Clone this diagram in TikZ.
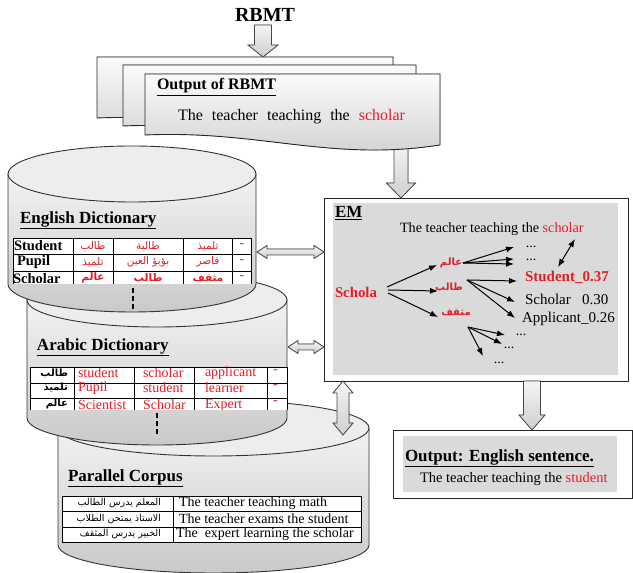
\documentclass[tikz,border=0pt]{standalone}
\usepackage{fontspec}
\setmainfont{Liberation Serif}
\newfontfamily\arabicfont[Script=Arabic]{DejaVu Sans}
\TeXXeTstate=1
\usetikzlibrary{calc,arrows.meta}
\definecolor{myred}{RGB}{228,30,38}
\definecolor{boxgray}{RGB}{218,218,218}
% block arrows between named points
\newcommand{\blockdown}[5]{%
 \filldraw[blockarrow] let \p1=(#1), \p2=(#2) in
 (\x1-#3,\y1) -- (\x1+#3,\y1) -- (\x1+#3,\y2+#5) -- (\x1+#4,\y2+#5) -- (\x1,\y2) -- (\x1-#4,\y2+#5) -- (\x1-#3,\y2+#5) -- cycle;}
\newcommand{\blockhdouble}[5]{%
 \filldraw[blockarrow] let \p1=(#1), \p2=(#2) in
 (\x1,\y1) -- (\x1+#5,\y1+#4) -- (\x1+#5,\y1+#3) -- (\x2-#5,\y1+#3) -- (\x2-#5,\y1+#4) -- (\x2,\y1) -- (\x2-#5,\y1-#4) -- (\x2-#5,\y1-#3) -- (\x1+#5,\y1-#3) -- (\x1+#5,\y1-#4) -- cycle;}
\newcommand{\blockvdouble}[5]{%
 \filldraw[blockarrow] let \p1=(#1), \p2=(#2) in
 (\x1,\y1) -- (\x1+#4,\y1-#5) -- (\x1+#3,\y1-#5) -- (\x1+#3,\y2+#5) -- (\x1+#4,\y2+#5) -- (\x1,\y2) -- (\x1-#4,\y2+#5) -- (\x1-#3,\y2+#5) -- (\x1-#3,\y1-#5) -- (\x1-#4,\y1-#5) -- cycle;}
\begin{document}
\begin{tikzpicture}[x=1pt,y=1pt,
  every node/.style={inner sep=0pt, outer sep=0pt},
  blockarrow/.style={draw=gray!55!black, line width=0.8pt, top color=gray!8, bottom color=gray!38},
  cylbody/.style={top color=gray!10, bottom color=gray!42},
  cyltop/.style={fill=gray!14, draw=black!80, line width=0.9pt},
  cylline/.style={draw=black!80, line width=0.9pt},
  docshape/.style={draw=black!85, line width=0.9pt, top color=gray!3, bottom color=gray!38},
  head/.style={font=\fontsize{17}{20}\selectfont\bfseries, anchor=west},
  body/.style={font=\fontsize{14.5}{17}\selectfont, anchor=west},
  tabline/.style={draw=black, line width=0.9pt},
  tabtxt/.style={font=\fontsize{14}{16}\selectfont},
  tabar/.style={font=\arabicfont\fontsize{10.5}{12}\selectfont, text=myred},
  emarrow/.style={draw=black, line width=1pt, -{Latex[length=8pt,width=6pt]}},
  dashv/.style={draw=black, line width=2.4pt, dash pattern=on 5pt off 3pt}
]
\useasboundingbox (0,0) rectangle (633,573);

% ---------- Parallel corpus cylinder ----------
\shade[cylbody] (58,145) -- (58,28) arc[start angle=180, end angle=360, x radius=155.5pt, y radius=28pt] -- (369,145) -- cycle;
\draw[cylline] (58,145) -- (58,28) arc[start angle=180, end angle=360, x radius=155.5pt, y radius=28pt] -- (369,145);
\filldraw[cyltop] (213.5,145) ellipse [x radius=155.5pt, y radius=28pt];
\node[head] (pctitle) at (68,95) {\underline{Parallel Corpus}};
\begin{scope}
 \clip (62,31) rectangle (361,77);
 \fill[white] (62,31) rectangle (361,77);
 \draw[tabline] (62,62) -- (361,62) (62,46) -- (361,46) (173,31) -- (173,77);
 \node[anchor=east, font=\arabicfont\fontsize{9.5}{11}\selectfont] (pc1a) at (161,70) {\beginR المعلم يدرس الطالب\endR};
 \node[anchor=east, font=\arabicfont\fontsize{9.5}{11}\selectfont] (pc2a) at (161,54) {\beginR الاستاذ يمتحن الطلاب\endR};
 \node[anchor=east, font=\arabicfont\fontsize{9.5}{11}\selectfont] (pc3a) at (161,39) {\beginR الخبير يدرس المثقف\endR};
 \node[tabtxt, anchor=west] (pc1e) at (179,70) {The teacher teaching math};
 \node[tabtxt, anchor=west] (pc2e) at (179,54) {The teacher exams the student};
 \node[tabtxt, anchor=west] (pc3e) at (176,38.5) {The\ \ expert learning the scholar};
\end{scope}
\draw[tabline] (62,31) rectangle (361,77);

% ---------- Arabic dictionary cylinder ----------
\shade[cylbody] (27,273) -- (27,155) arc[start angle=180, end angle=360, x radius=130pt, y radius=27pt] -- (287,273) -- cycle;
\draw[cylline] (27,273) -- (27,155) arc[start angle=180, end angle=360, x radius=130pt, y radius=27pt] -- (287,273);
\filldraw[cyltop] (157,273) ellipse [x radius=130pt, y radius=27pt];
\node[head] (adtitle) at (37,226) {\underline{Arabic Dictionary}};
\begin{scope}
 \clip (30,163) rectangle (287,206);
 \fill[white] (30,163) rectangle (287,206);
 \draw[tabline] (30,190) -- (287,190) (30,175) -- (287,175)
   (74,163) -- (74,206) (134,163) -- (134,206) (194,163) -- (194,206) (267,163) -- (267,206);
 \node[anchor=east, font=\arabicfont\bfseries\fontsize{10}{12}\selectfont] (ad1a) at (68,200) {\beginR طالب\endR};
 \node[anchor=east, font=\arabicfont\bfseries\fontsize{10}{12}\selectfont] (ad2a) at (68,185) {\beginR تلميذ\endR};
 \node[anchor=east, font=\arabicfont\bfseries\fontsize{10}{12}\selectfont] (ad3a) at (68,169) {\beginR عالم\endR};
 \node[tabtxt, anchor=west, text=myred] (ad1b) at (78,200) {student};
 \node[tabtxt, anchor=west, text=myred] (ad1c) at (143,200) {scholar};
 \node[tabtxt, anchor=west, text=myred] (ad1d) at (205,200) {applicant};
 \node[tabtxt, anchor=west, text=myred] (ad1e) at (273,201) {-};
 \node[tabtxt, anchor=west, text=myred] (ad2b) at (78,185) {Pupil};
 \node[tabtxt, anchor=west, text=myred] (ad2c) at (143,185) {student};
 \node[tabtxt, anchor=west, text=myred] (ad2d) at (205,185) {learner};
 \node[tabtxt, anchor=west, text=myred] (ad2e) at (273,186) {-};
 \node[tabtxt, anchor=west, text=myred] (ad3b) at (78,168) {Scientist};
 \node[tabtxt, anchor=west, text=myred] (ad3c) at (143,168) {Scholar};
 \node[tabtxt, anchor=west, text=myred] (ad3d) at (205,168) {Expert};
 \node[tabtxt, anchor=west, text=myred] (ad3e) at (273,170) {-};
\end{scope}
\draw[tabline] (30,163) -- (30,206) -- (287,206) -- (287,163);
\coordinate (addashtop) at (157,160);
\coordinate (addashbot) at (157,137);
\draw[dashv] (addashtop) -- (addashbot);

% ---------- English dictionary cylinder ----------
\shade[cylbody] (8,399) -- (8,289) arc[start angle=180, end angle=360, x radius=124pt, y radius=28pt] -- (256,399) -- cycle;
\draw[cylline] (8,399) -- (8,289) arc[start angle=180, end angle=360, x radius=124pt, y radius=28pt] -- (256,399);
\filldraw[cyltop] (132,399) ellipse [x radius=124pt, y radius=28pt];
\node[head] (edtitle) at (20,353) {\underline{English Dictionary}};
\begin{scope}
 \clip (13,289) rectangle (251,335);
 \fill[white] (13,289) rectangle (251,335);
 \draw[tabline] (13,319) -- (251,319) (13,302) -- (251,302)
   (73,289) -- (73,335) (113,289) -- (113,335) (183,289) -- (183,335) (232,289) -- (232,335);
 \node[tabtxt, font=\fontsize{14.5}{16}\selectfont\bfseries, anchor=west] (ed1a) at (14,327) {Student};
 \node[tabtxt, font=\fontsize{14.5}{16}\selectfont\bfseries, anchor=west] (ed2a) at (17,311) {Pupil};
 \node[tabtxt, font=\fontsize{14.5}{16}\selectfont\bfseries, anchor=west] (ed3a) at (13,294) {Scholar};
 \node[tabar] (ed1b) at (93,327) {\beginR طالب\endR};
 \node[tabar] (ed1c) at (148,327) {\beginR طالبة\endR};
 \node[tabar] (ed1d) at (208,327) {\beginR تلميذ\endR};
 \node[tabtxt, text=myred] (ed1e) at (242,327) {-};
 \node[tabar] (ed2b) at (93,311) {\beginR تلميذ\endR};
 \node[tabar] (ed2c) at (148,311) {\beginR بؤبؤ العين\endR};
 \node[tabar] (ed2d) at (208,311) {\beginR قاصر\endR};
 \node[tabtxt, text=myred] (ed2e) at (242,311) {-};
 \node[tabar, font=\arabicfont\bfseries\fontsize{10.5}{12}\selectfont] (ed3b) at (93,295) {\beginR عالم\endR};
 \node[tabar, font=\arabicfont\bfseries\fontsize{10.5}{12}\selectfont] (ed3c) at (148,295) {\beginR طالب\endR};
 \node[tabar, font=\arabicfont\bfseries\fontsize{10.5}{12}\selectfont] (ed3d) at (208,295) {\beginR مثقف\endR};
 \node[tabtxt, text=myred] (ed3e) at (242,295) {-};
\end{scope}
\draw[tabline] (13,289) -- (13,335) -- (251,335) -- (251,289);
\coordinate (eddashtop) at (133,285);
\coordinate (eddashbot) at (133,262);
\draw[dashv] (eddashtop) -- (eddashbot);

% ---------- EM box ----------
\node[draw=black!85, line width=0.9pt, fill=white, minimum width=304pt, minimum height=183pt] (em) at (476,283.5) {};
\fill[boxgray] (333,198) rectangle (618,370);
\node[head] (emlabel) at (335,360) {\underline{EM}};
\node[body, font=\fontsize{14.2}{17}\selectfont] (emsent) at (400,343.5) {The teacher teaching\ the \textcolor{myred}{scholar}};
\node[anchor=west, font=\fontsize{14.8}{17}\selectfont\bfseries, text=myred] (schola) at (335,281) {Schola};
\node[font=\arabicfont\bfseries\fontsize{10}{12}\selectfont, text=myred] (w1) at (451,310) {\beginR عالم\endR};
\node[font=\arabicfont\bfseries\fontsize{10}{12}\selectfont, text=myred] (w2) at (449,286) {\beginR طالب\endR};
\node[font=\arabicfont\bfseries\fontsize{10}{12}\selectfont, text=myred] (w3) at (456,261) {\beginR مثقف\endR};
\node[anchor=west, font=\fontsize{15}{17}\selectfont\bfseries, text=myred] (cstudent) at (525,296) {Student\_0.37};
\node[anchor=west, font=\fontsize{15}{17}\selectfont] (cscholar) at (525,274) {Scholar\ \ \ 0.30};
\node[anchor=west, font=\fontsize{15}{17}\selectfont] (capplicant) at (522,254) {Applicant\_0.26};
\node[font=\fontsize{14}{16}\selectfont] (d1) at (531,326.5) {...};
\node[font=\fontsize{14}{16}\selectfont] (d2) at (531,313) {...};
\node[font=\fontsize{14}{16}\selectfont] (d3) at (521,238) {...};
\node[font=\fontsize{14}{16}\selectfont] (d4) at (509,225) {...};
\node[font=\fontsize{14}{16}\selectfont] (d5) at (499,210) {...};
% arrow anchor points
\coordinate (sa) at (387,286); \coordinate (sb) at (388,283); \coordinate (sc) at (388,280);
\coordinate (w1in) at (437,308); \coordinate (w2in) at (438,282); \coordinate (w3in) at (438,256);
\coordinate (w1out) at (463,310); \coordinate (w2out) at (467,293); \coordinate (w3out) at (468,246);
\coordinate (d1in) at (514,326); \coordinate (d2in) at (514,314); \coordinate (d2inb) at (514,309);
\coordinate (stin) at (517,292); \coordinate (scin) at (515,271); \coordinate (apin) at (515,255);
\coordinate (d3in) at (505,238); \coordinate (d4in) at (502,229); \coordinate (d5in) at (483,217);
\coordinate (schtop) at (575,334); \coordinate (stutop) at (558,306);
\draw[emarrow] (sa) -- (w1in);
\draw[emarrow] (sb) -- (w2in);
\draw[emarrow] (sc) -- (w3in);
\draw[emarrow] (w1out) -- (d1in);
\draw[emarrow] (w1out) -- (d2in);
\draw[emarrow] (w1out) -- (d2inb);
\draw[emarrow] (w2out) -- (stin);
\draw[emarrow] (w2out) -- (scin);
\draw[emarrow] (w2out) -- (apin);
\draw[emarrow] (w3out) -- (d3in);
\draw[emarrow] (w3out) -- (d4in);
\draw[emarrow] (w3out) -- (d5in);
\draw[draw=black, line width=1pt, {Latex[length=8pt,width=6pt]}-{Latex[length=8pt,width=6pt]}] (schtop) -- (stutop);

% ---------- Output box ----------
\node[draw=black!85, line width=0.9pt, fill=white, minimum width=239pt, minimum height=68pt] (out) at (512.5,109) {};
\fill[boxgray] (403,81) rectangle (617,137);
\node[head] (outtitle) at (405,115) {\underline{Output: English sentence.}};
\node[body] (outsent) at (420,94) {The teacher teaching\ the \textcolor{myred}{student}};

% ---------- Top: RBMT and documents ----------
\node[font=\fontsize{20}{22}\selectfont\bfseries] (rbmt) at (265,558) {RBMT};
\coordinate (docfrontbot) at (401,430);
\coordinate (emtop) at (401,375);
\blockdown{docfrontbot}{emtop}{7pt}{14.5pt}{15pt}
\coordinate (rbmtarrowtop) at (263,548);
\coordinate (docbacktop) at (263,516);
\blockdown{rbmtarrowtop}{docbacktop}{8.5pt}{15pt}{12pt}
\filldraw[docshape] (97,516) -- (393,516) -- (393,445) .. controls (282,428) and (212,460) .. (97,455) -- cycle;
\filldraw[docshape] (123,508) -- (416,508) -- (416,437) .. controls (308,420) and (238,452) .. (123,447) -- cycle;
\filldraw[docshape] (145,499) -- (440,499) -- (440,428) .. controls (330,411) and (260,443) .. (145,438) -- cycle;
\node[anchor=west, font=\fontsize{16}{18}\selectfont\bfseries] (doctitle) at (157,486) {\underline{Output of RBMT}};
\node[anchor=west, font=\fontsize{16}{18}\selectfont] (doctext) at (178,456) {The\hspace{9pt}teacher\hspace{9pt}teaching\hspace{9pt}the\hspace{9pt}\textcolor{myred}{scholar}};

% ---------- Connector block arrows ----------
\coordinate (edright) at (257,321);
\coordinate (emleft1) at (324,321);
\blockhdouble{edright}{emleft1}{3pt}{6.5pt}{10pt}
\coordinate (adright) at (288,226);
\coordinate (emleft2) at (324,226);
\blockhdouble{adright}{emleft2}{3pt}{6.5pt}{10pt}
\coordinate (embot1) at (343,192);
\coordinate (pctop) at (343,138);
\blockvdouble{embot1}{pctop}{6pt}{10pt}{12pt}
\coordinate (embot2) at (532,192);
\coordinate (outtop) at (532,143);
\blockdown{embot2}{outtop}{8.5pt}{13pt}{15pt}
\end{tikzpicture}
\end{document}
